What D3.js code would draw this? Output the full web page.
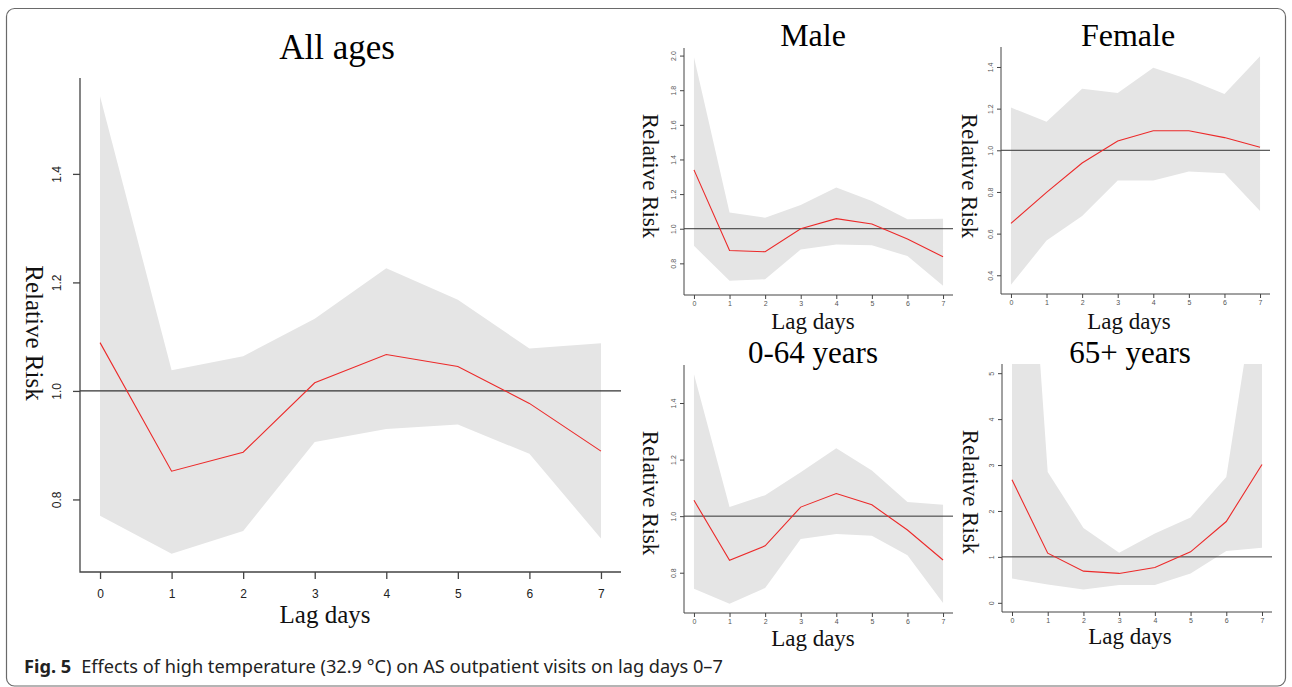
<!DOCTYPE html>
<html>
<head>
<meta charset="utf-8">
<script src="https://cdn.jsdelivr.net/npm/d3@7"></script>
<style>
  body { margin: 0; background: #fff; }
  svg { display: block; }
</style>
</head>
<body>
<svg id="chart" width="1292" height="687"></svg>
<script>
// lag days on the x axis (same for every panel)
const lags = [0, 1, 2, 3, 4, 5, 6, 7];

// All ages
const allRR   = [1.089, 0.852, 0.887, 1.015, 1.067, 1.045, 0.977, 0.889];
const allLow  = [0.770, 0.700, 0.742, 0.906, 0.930, 0.938, 0.884, 0.728];
const allHigh = [1.543, 1.038, 1.064, 1.133, 1.226, 1.168, 1.078, 1.088];
const allTicks = [0.8, 1.0, 1.2, 1.4];

// Male
const maleRR   = [1.340, 0.874, 0.867, 1.000, 1.058, 1.027, 0.940, 0.838];
const maleLow  = [0.901, 0.700, 0.708, 0.880, 0.909, 0.905, 0.842, 0.670];
const maleHigh = [1.991, 1.093, 1.064, 1.137, 1.238, 1.160, 1.054, 1.058];
const maleTicks = [0.8, 1.0, 1.2, 1.4, 1.6, 1.8, 2.0];

// Female
const femaleRR   = [0.649, 0.798, 0.939, 1.045, 1.094, 1.094, 1.061, 1.015];
const femaleLow  = [0.354, 0.567, 0.685, 0.855, 0.855, 0.898, 0.890, 0.709];
const femaleHigh = [1.205, 1.137, 1.296, 1.275, 1.396, 1.340, 1.270, 1.452];
const femaleTicks = [0.4, 0.6, 0.8, 1.0, 1.2, 1.4];

// 0-64 years
const youngRR   = [1.056, 0.844, 0.895, 1.032, 1.080, 1.040, 0.951, 0.845];
const youngLow  = [0.743, 0.690, 0.746, 0.919, 0.937, 0.931, 0.862, 0.693];
const youngHigh = [1.502, 1.032, 1.074, 1.155, 1.240, 1.161, 1.050, 1.040];
const youngTicks = [0.8, 1.0, 1.2, 1.4];

// 65+ years (upper bound runs off the top at lag 0 and 7, y range fixed 0-5)
const oldRR   = [2.68, 1.08, 0.69, 0.64, 0.77, 1.11, 1.77, 3.01];
const oldLow  = [0.53, 0.40, 0.29, 0.39, 0.39, 0.64, 1.13, 1.20];
const oldHigh = [14.0, 2.85, 1.63, 1.09, 1.51, 1.86, 2.74, 7.70];
const oldTicks = [0, 1, 2, 3, 4, 5];
const oldYlim = [0, 5];

const titles = ["All ages", "Male", "Female", "0-64 years", "65+ years"];
const xTitle = "Lag days";
const yTitle = "Relative Risk";
const captionBold = "Fig. 5";
const captionText = "Effects of high temperature (32.9 \u00b0C) on AS outpatient visits on lag days 0\u20137";

const SERIF = "'Liberation Serif', 'Times New Roman', serif";
const SANS = "'Liberation Sans', Arial, sans-serif";

const svg = d3.select("#chart");

// card outline
svg.append("rect")
    .attr("x", 6.5).attr("y", 8.5)
    .attr("width", 1279).attr("height", 677.5)
    .attr("rx", 8)
    .attr("fill", "none")
    .attr("stroke", "#6a6a6a")
    .attr("stroke-width", 1.2);

// panel boxes: plot region + where the labels sit
const panels = [
    { title: titles[0], rr: allRR, low: allLow, high: allHigh, ticks: allTicks, ylim: null,
      x0: 80, x1: 621, y0: 78, y1: 572,
      titleX: 337, titleY: 59, titleFs: 35,
      ylabX: 34, ylabY: 333, xlabX: 325, xlabY: 623, labFs: 25,
      tickFs: 12, tickLen: 7, tickOff: 23, axisW: 1.3 },
    { title: titles[1], rr: maleRR, low: maleLow, high: maleHigh, ticks: maleTicks, ylim: null,
      x0: 684, x1: 953, y0: 48, y1: 295,
      titleX: 813, titleY: 46, titleFs: 32,
      ylabX: 650, ylabY: 176, xlabX: 813, xlabY: 329, labFs: 23,
      tickFs: 7, tickLen: 4, tickOff: 10, axisW: 1 },
    { title: titles[2], rr: femaleRR, low: femaleLow, high: femaleHigh, ticks: femaleTicks, ylim: null,
      x0: 1001, x1: 1270, y0: 47, y1: 294,
      titleX: 1128, titleY: 46, titleFs: 32,
      ylabX: 969, ylabY: 176, xlabX: 1129, xlabY: 329, labFs: 23,
      tickFs: 7, tickLen: 4, tickOff: 10, axisW: 1 },
    { title: titles[3], rr: youngRR, low: youngLow, high: youngHigh, ticks: youngTicks, ylim: null,
      x0: 684, x1: 953, y0: 365, y1: 613,
      titleX: 813, titleY: 363, titleFs: 31,
      ylabX: 650, ylabY: 493, xlabX: 813, xlabY: 646, labFs: 23,
      tickFs: 7, tickLen: 4, tickOff: 10, axisW: 1 },
    { title: titles[4], rr: oldRR, low: oldLow, high: oldHigh, ticks: oldTicks, ylim: oldYlim,
      x0: 1002, x1: 1272, y0: 364, y1: 612,
      titleX: 1130, titleY: 363, titleFs: 31,
      ylabX: 970, ylabY: 492, xlabX: 1130, xlabY: 644, labFs: 23,
      tickFs: 7, tickLen: 4, tickOff: 10, axisW: 1 }
];

// R style axis range: data range stretched by 4% on each side
function padRange(lim) {
    let d = (lim[1] - lim[0]) * 0.04;
    return [lim[0] - d, lim[1] + d];
}

function drawPanel(p, idx) {
    let g = svg.append("g");

    let x = d3.scaleLinear()
        .domain(padRange(d3.extent(lags)))
        .range([p.x0, p.x1]);
    let lim = p.ylim ? p.ylim : d3.extent(p.low.concat(p.high));
    let y = d3.scaleLinear()
        .domain(padRange(lim))
        .range([p.y1, p.y0]);

    let rows = lags.map((l, i) => ({ lag: l, rr: p.rr[i], lo: p.low[i], hi: p.high[i] }));

    // clip to the plot region (65+ band goes off the top)
    let clipId = "clip" + idx;
    svg.append("clipPath").attr("id", clipId)
        .append("rect")
        .attr("x", p.x0).attr("y", p.y0)
        .attr("width", p.x1 - p.x0).attr("height", p.y1 - p.y0);

    let plot = g.append("g").attr("clip-path", "url(#" + clipId + ")");

    plot.append("path")
        .datum(rows)
        .attr("d", d3.area().x(d => x(d.lag)).y0(d => y(d.lo)).y1(d => y(d.hi)))
        .attr("fill", "#e5e5e5");

    plot.append("line")
        .attr("x1", p.x0).attr("x2", p.x1)
        .attr("y1", y(1)).attr("y2", y(1))
        .attr("stroke", "#333")
        .attr("stroke-width", p.axisW);

    plot.append("path")
        .datum(rows)
        .attr("d", d3.line().x(d => x(d.lag)).y(d => y(d.rr)))
        .attr("fill", "none")
        .attr("stroke", "#ec2a2a")
        .attr("stroke-width", 1.1);

    // L shaped frame (bty = "l")
    g.append("path")
        .attr("d", "M" + p.x0 + "," + p.y0 + "V" + p.y1 + "H" + p.x1)
        .attr("fill", "none")
        .attr("stroke", "#444")
        .attr("stroke-width", p.axisW);

    // x axis ticks + labels
    let xAxis = g.append("g")
        .attr("transform", "translate(0," + p.y1 + ")")
        .call(d3.axisBottom(x).tickValues(lags).tickSize(p.tickLen).tickPadding(p.tickOff - p.tickLen - p.tickFs * 0.5).tickFormat(d3.format("d")));
    xAxis.select(".domain").remove();
    xAxis.selectAll("line").attr("stroke", "#444").attr("stroke-width", p.axisW);
    xAxis.selectAll("text")
        .attr("font-family", SANS).attr("font-size", p.tickFs)
        .attr("fill", p.tickFs < 10 ? "#555" : "#222");

    // y axis ticks, labels turned parallel to the axis
    let yAxis = g.append("g")
        .attr("transform", "translate(" + p.x0 + ",0)")
        .call(d3.axisLeft(y).tickValues(p.ticks).tickSize(p.tickLen)
            .tickFormat(p.ylim ? d3.format("d") : d3.format(".1f")));
    yAxis.select(".domain").remove();
    yAxis.selectAll("line").attr("stroke", "#444").attr("stroke-width", p.axisW);
    yAxis.selectAll("text")
        .attr("x", null).attr("dy", null)
        .attr("transform", "translate(" + (-p.tickOff - (p.tickFs > 10 ? 0 : 1)) + ",0) rotate(-90)")
        .attr("text-anchor", "middle")
        .attr("dominant-baseline", "central")
        .attr("font-family", SANS).attr("font-size", p.tickFs)
        .attr("fill", p.tickFs < 10 ? "#555" : "#222");

    // titles
    g.append("text")
        .attr("x", p.titleX).attr("y", p.titleY)
        .attr("text-anchor", "middle")
        .attr("font-family", SERIF)
        .attr("font-size", p.titleFs)
        .attr("fill", "#000")
        .text(p.title);

    g.append("text")
        .attr("x", p.xlabX).attr("y", p.xlabY)
        .attr("text-anchor", "middle")
        .attr("font-family", SERIF).attr("font-size", p.labFs)
        .attr("fill", "#111")
        .text(xTitle);

    g.append("text")
        .attr("transform", "translate(" + p.ylabX + "," + p.ylabY + ") rotate(90)")
        .attr("text-anchor", "middle")
        .attr("dominant-baseline", "central")
        .attr("font-family", SERIF).attr("font-size", p.labFs)
        .attr("fill", "#111")
        .text(yTitle);
}

panels.forEach(drawPanel);

// figure caption
let cap = svg.append("text")
    .attr("x", 24).attr("y", 673)
    .attr("font-family", "'Noto Sans', 'Open Sans', sans-serif")
    .attr("font-size", 18.2)
    .attr("fill", "#222");
cap.append("tspan").attr("font-weight", "bold").text(captionBold);
cap.append("tspan").attr("dx", 10).text(captionText);
</script>
</body>
</html>
